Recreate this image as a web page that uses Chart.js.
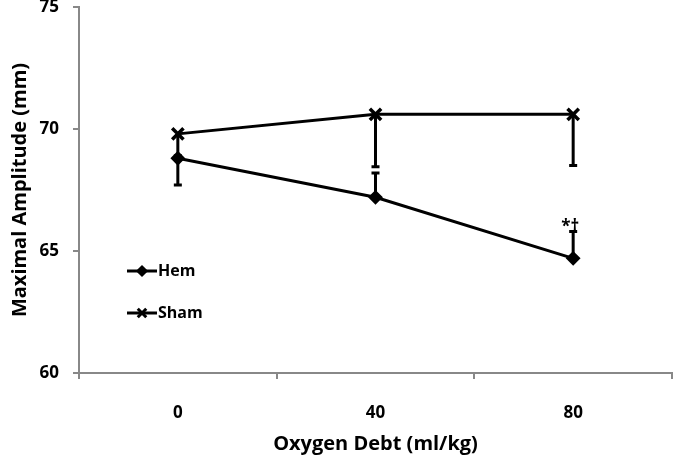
<!DOCTYPE html>
<html>
<head>
<meta charset="utf-8">
<script src="https://cdn.jsdelivr.net/npm/chart.js@4/dist/chart.umd.min.js"></script>
<style>
  html, body { margin: 0; padding: 0; background: #fff; }
  #wrap { width: 673px; height: 463px; }
</style>
</head>
<body>
<div id="wrap"><canvas id="lineChart"></canvas></div>
<script>
// oxygen debt categories (ml/kg)
const categories = ["0", "40", "80"];

// maximal amplitude (mm)
const hemValues = [68.8, 67.2, 64.7];
const shamValues = [69.8, 70.6, 70.6];

// one-sided error bars: negative = drawn downward, positive = upward
const hemErrors = [-1.1, 1.0, 1.1];
const shamErrors = [-0.9, -2.15, -2.1];

const yTicks = [60, 65, 70, 75];
const significance = ["", "", "*†"];

const FONT = "'Open Sans', 'DejaVu Sans', sans-serif";

// error bars + significance marks, drawn through the scales
const errorBarPlugin = {
    id: "errorBars",
    afterDatasetsDraw(chart) {
        const ctx = chart.ctx;
        const x = chart.scales.x;
        const y = chart.scales.y;
        const sets = [[hemValues, hemErrors], [shamValues, shamErrors]];
        ctx.save();
        ctx.strokeStyle = "#000";
        ctx.lineWidth = 3;
        sets.forEach(function (s) {
            s[0].forEach(function (v, i) {
                const px = x.getPixelForValue(i);
                const y0 = y.getPixelForValue(v);
                const y1 = y.getPixelForValue(v + s[1][i]);
                ctx.beginPath();
                ctx.moveTo(px, y0);
                ctx.lineTo(px, y1);
                ctx.moveTo(px - 4, y1);
                ctx.lineTo(px + 4, y1);
                ctx.stroke();
            });
        });
        ctx.fillStyle = "#000";
        ctx.font = "bold 17px " + FONT;
        ctx.textAlign = "center";
        ctx.textBaseline = "bottom";
        significance.forEach(function (t, i) {
            if (!t) return;
            const px = x.getPixelForValue(i);
            const py = y.getPixelForValue(hemValues[i] + hemErrors[i]);
            ctx.fillText(t, px - 3, py + 4);
        });
        ctx.restore();
    },
};

// legend drawn inside the plot area, lower left
const innerLegend = {
    id: "innerLegend",
    afterDraw(chart) {
        const ctx = chart.ctx;
        const area = chart.chartArea;
        const items = [
            { label: "Hem", style: "rectRot", r: 4 },
            { label: "Sham", style: "crossRot", r: 6 },
        ];
        ctx.save();
        ctx.font = "bold 16px " + FONT;
        ctx.textBaseline = "middle";
        items.forEach(function (it, k) {
            const lx = area.left + 48;
            const ly = 271 + k * 42;
            ctx.strokeStyle = "#000";
            ctx.fillStyle = "#000";
            ctx.lineWidth = 3;
            ctx.beginPath();
            ctx.moveTo(lx, ly);
            ctx.lineTo(lx + 30, ly);
            ctx.stroke();
            Chart.helpers.drawPoint(ctx, {
                pointStyle: it.style,
                radius: it.r,
                borderWidth: 3,
            }, lx + 15, ly);
            ctx.fillText(it.label, lx + 31, ly);
        });
        ctx.restore();
    },
};

document.addEventListener("DOMContentLoaded", function () {
    const ctxLine = document.getElementById("lineChart").getContext("2d");

    const lineConfig = {
        type: "line",
        data: {
            labels: categories,
            datasets: [
                {
                    label: "Hem",
                    data: hemValues,
                    borderColor: "#000",
                    backgroundColor: "#000",
                    borderWidth: 3,
                    pointStyle: "rectRot",
                    pointRadius: 6,
                    pointBorderWidth: 2,
                },
                {
                    label: "Sham",
                    data: shamValues,
                    borderColor: "#000",
                    backgroundColor: "#000",
                    borderWidth: 3,
                    pointStyle: "crossRot",
                    pointRadius: 8,
                    pointBorderWidth: 3.5,
                },
            ],
        },
        options: {
            responsive: false,
            animation: false,
            layout: { autoPadding: false, padding: { left: 4, right: 1, top: 7, bottom: 3 } },
            plugins: {
                legend: { display: false },
                tooltip: { enabled: false },
            },
            scales: {
                x: {
                    offset: true,
                    grid: {
                        offset: true,
                        drawOnChartArea: false,
                        color: "#888",
                        lineWidth: 2,
                        tickLength: 6,
                    },
                    border: { color: "#888", width: 2 },
                    ticks: {
                        color: "#000",
                        font: { family: FONT, size: 17, weight: "bold" },
                        padding: 24,
                    },
                    title: {
                        display: true,
                        text: "Oxygen Debt (ml/kg)",
                        color: "#000",
                        font: { family: FONT, size: 20, weight: "bold" },
                        padding: { top: 8 },
                    },
                    afterFit(scale) {
                        scale.height = 87;
                        scale.paddingLeft = 0;
                        scale.paddingRight = 0;
                    },
                },
                y: {
                    min: 60,
                    max: 75,
                    afterBuildTicks(scale) {
                        scale.ticks = yTicks.map(function (v) { return { value: v }; });
                    },
                    grid: {
                        drawOnChartArea: false,
                        color: "#888",
                        lineWidth: 2,
                        tickLength: 6,
                    },
                    border: { color: "#888", width: 2 },
                    ticks: {
                        color: "#000",
                        font: { family: FONT, size: 17, weight: "bold" },
                        padding: 14,
                    },
                    title: {
                        display: true,
                        text: "Maximal Amplitude (mm)",
                        color: "#000",
                        font: { family: FONT, size: 20, weight: "bold" },
                        padding: { bottom: 4 },
                    },
                    afterFit(scale) {
                        scale.width = 75;
                        scale.paddingTop = 0;
                        scale.paddingBottom = 0;
                    },
                },
            },
        },
        plugins: [errorBarPlugin, innerLegend],
    };

    const canvas = document.getElementById("lineChart");
    canvas.width = 673;
    canvas.height = 463;
    const lineChart = new Chart(ctxLine, lineConfig);
});
</script>
</body>
</html>
